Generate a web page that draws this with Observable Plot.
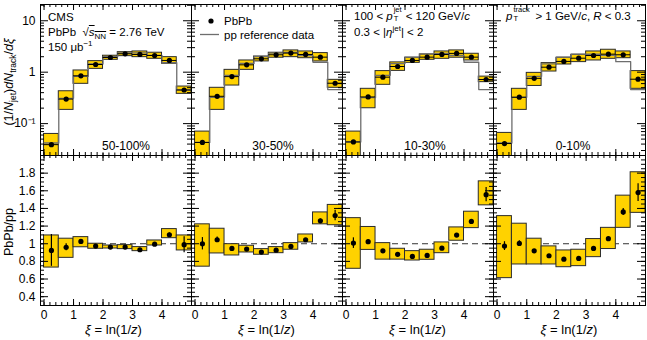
<!DOCTYPE html>
<html><head><meta charset="utf-8">
<script src="https://cdn.jsdelivr.net/npm/d3@7"></script>
<script src="https://cdn.jsdelivr.net/npm/@observablehq/plot@0.6"></script>
<style>
body{margin:0;background:#fff;}
#root{position:relative;width:647px;height:340px;overflow:hidden;font-family:"Liberation Sans",Arial,Helvetica,sans-serif;color:#000;}
.t{position:absolute;font-size:11.5px;white-space:nowrap;line-height:12px;}
.t sub{font-size:8px;vertical-align:baseline;position:relative;top:3px;line-height:0;}
.t sup{font-size:8px;vertical-align:baseline;position:relative;top:-5px;line-height:0;}
.ss{display:inline-block;position:relative;width:13px;height:10px;vertical-align:top;font-size:7.5px;}
.ss .u{position:absolute;left:1px;top:-4px;line-height:7px;}
.ss .d{position:absolute;left:1px;top:5px;line-height:7px;}
.rot{position:absolute;white-space:nowrap;font-size:12.5px;line-height:14px;transform:translate(-50%,-50%) rotate(-90deg);}
.rot sub{font-size:8.5px;vertical-align:baseline;position:relative;top:3px;line-height:0;}
.xt{position:absolute;font-size:13px;white-space:nowrap;transform:translate(-50%,-50%);line-height:14px;}
.cent{position:absolute;font-size:12px;white-space:nowrap;transform:translate(-50%,-50%);line-height:13px;background:#fff;z-index:5;text-decoration:none;}
</style></head><body><div id="root"></div>
<script>
// ---------- data ----------
const centralities = ["50-100%", "30-50%", "10-30%", "0-10%"];
const binLo = [0, 0.5, 1, 1.5, 2, 2.5, 3, 3.5, 4, 4.5];
const binHi = [0.5, 1, 1.5, 2, 2.5, 3, 3.5, 4, 4.5, 5];

// PbPb dN/dxi
const pbpb_50_100 = [0.039, 0.30, 0.85, 1.41, 1.93, 2.28, 2.21, 2.11, 1.69, 0.45];
const pbpb_30_50  = [0.043, 0.34, 0.82, 1.39, 1.82, 2.18, 2.35, 2.21, 1.96, 0.61];
const pbpb_10_30  = [0.044, 0.33, 0.80, 1.29, 1.69, 1.96, 2.21, 2.32, 1.96, 0.72];
const pbpb_0_10   = [0.041, 0.326, 0.76, 1.25, 1.62, 1.87, 2.11, 2.24, 2.18, 0.73];
// PbPb systematic band (low / high)
const sysLo_50_100 = [0.02, 0.185, 0.594, 1.16, 1.74, 2.05, 1.96, 1.82, 1.46, 0.379];
const sysHi_50_100 = [0.063, 0.426, 1.08, 1.64, 2.09, 2.45, 2.53, 2.39, 1.96, 0.526];
const sysLo_30_50  = [0.02, 0.185, 0.55, 1.11, 1.62, 1.91, 1.96, 1.87, 1.62, 0.497];
const sysHi_30_50  = [0.070, 0.497, 1.11, 1.69, 2.02, 2.39, 2.65, 2.53, 2.35, 0.71];
const sysLo_10_30  = [0.02, 0.199, 0.568, 1.06, 1.52, 1.74, 1.82, 1.91, 1.69, 0.64];
const sysHi_10_30  = [0.070, 0.475, 1.05, 1.55, 1.91, 2.21, 2.53, 2.65, 2.28, 0.82];
const sysLo_0_10   = [0.02, 0.185, 0.54, 1.03, 1.41, 1.57, 1.69, 1.82, 1.87, 0.475];
const sysHi_0_10   = [0.066, 0.475, 0.97, 1.50, 1.91, 2.18, 2.53, 2.73, 2.53, 1.05];
// pp reference
const pp_50_100 = [0.042, 0.31, 0.83, 1.45, 2.01, 2.37, 2.37, 2.12, 1.53, 0.455];
const pp_30_50  = [0.043, 0.325, 0.866, 1.48, 2.01, 2.35, 2.42, 2.11, 1.56, 0.46];
const pp_10_30  = [0.044, 0.32, 0.87, 1.47, 1.97, 2.26, 2.33, 2.11, 1.56, 0.46];
const pp_0_10   = [0.042, 0.325, 0.83, 1.45, 1.96, 2.24, 2.23, 2.12, 1.60, 0.46];
// PbPb/pp ratio
const ratio_50_100 = [0.924, 0.96, 1.026, 0.973, 0.962, 0.962, 0.932, 0.995, 1.102, 0.989];
const ratio_30_50  = [1.0, 1.045, 0.947, 0.94, 0.905, 0.927, 0.97, 1.045, 1.26, 1.32];
const ratio_10_30  = [1.007, 1.023, 0.92, 0.88, 0.856, 0.867, 0.95, 1.098, 1.253, 1.556];
const ratio_0_10   = [0.973, 1.003, 0.92, 0.864, 0.825, 0.833, 0.947, 1.057, 1.36, 1.58];
const rSysLo_50_100 = [0.73, 0.84, 0.96, 0.943, 0.946, 0.939, 0.916, 0.98, 1.063, 0.924];
const rSysHi_50_100 = [1.094, 1.057, 1.075, 1.0, 0.98, 0.984, 0.962, 1.037, 1.166, 1.094];
const rSysLo_30_50  = [0.74, 0.89, 0.867, 0.901, 0.875, 0.893, 0.932, 1.015, 1.22, 1.21];
const rSysHi_30_50  = [1.22, 1.17, 0.995, 0.977, 0.939, 0.962, 1.007, 1.105, 1.355, 1.44];
const rSysLo_10_30  = [0.716, 0.93, 0.82, 0.82, 0.81, 0.818, 0.893, 1.034, 1.177, 1.435];
const rSysHi_10_30  = [1.29, 1.19, 1.007, 0.943, 0.916, 0.932, 1.015, 1.185, 1.363, 1.707];
const rSysLo_0_10   = [0.61, 0.765, 0.765, 0.765, 0.734, 0.746, 0.848, 0.94, 1.18, 1.35];
const rSysHi_0_10   = [1.313, 1.227, 1.057, 0.97, 0.924, 0.932, 1.053, 1.18, 1.545, 1.81];
const rStat_50_100 = [0.18, 0.04, 0.015, 0.01, 0.01, 0.01, 0.01, 0.01, 0.02, 0.09];
const rStat_30_50  = [0.07, 0.03, 0.015, 0.01, 0.01, 0.01, 0.01, 0.015, 0.02, 0.06];
const rStat_10_30  = [0.06, 0.02, 0.01, 0.01, 0.01, 0.01, 0.01, 0.015, 0.02, 0.08];
const rStat_0_10   = [0.05, 0.03, 0.015, 0.01, 0.01, 0.01, 0.015, 0.02, 0.04, 0.1];

// ticks
const xTicks = [0, 1, 2, 3, 4];
const xTickLabels = ["0", "1", "2", "3", "4"];
const logTicks = [0.1, 1, 10];
const logTickLabels = ["10\u207B\u00B9", "1", "10"];
const logMinor = [0.03,0.04,0.05,0.06,0.07,0.08,0.09,0.2,0.3,0.4,0.5,0.6,0.7,0.8,0.9,2,3,4,5,6,7,8,9,20];
const ratioTicks = [0.4, 0.6, 0.8, 1, 1.2, 1.4, 1.6, 1.8];
const ratioTickLabels = ["0.4", "0.6", "0.8", "1", "1.2", "1.4", "1.6", "1.8"];

const pbpbAll = [pbpb_50_100, pbpb_30_50, pbpb_10_30, pbpb_0_10];
const sysLoAll = [sysLo_50_100, sysLo_30_50, sysLo_10_30, sysLo_0_10];
const sysHiAll = [sysHi_50_100, sysHi_30_50, sysHi_10_30, sysHi_0_10];
const ppAll = [pp_50_100, pp_30_50, pp_10_30, pp_0_10];
const ratioAll = [ratio_50_100, ratio_30_50, ratio_10_30, ratio_0_10];
const rSysLoAll = [rSysLo_50_100, rSysLo_30_50, rSysLo_10_30, rSysLo_0_10];
const rSysHiAll = [rSysHi_50_100, rSysHi_30_50, rSysHi_10_30, rSysHi_0_10];
const rStatAll = [rStat_50_100, rStat_30_50, rStat_10_30, rStat_0_10];

// ---------- layout ----------
const root = document.getElementById("root");
const panelLeft = [40, 191, 342, 493];
const panelW = [151, 151, 151, 152];
const topY = 4, topH = 151, botY = 155, botH = 150;
const YEL = "#ffd200", EDGE = "#2b2b2b", PPC = "#6e6e6e";
const xMinor = d3.range(0, 5.0001, 0.2).map(v => +v.toFixed(2));
const rMinor = d3.range(0.3, 2.0001, 0.05).map(v => +v.toFixed(2));
const rMajor = [0.4,0.6,0.8,1.0,1.2,1.4,1.6,1.8,2.0];
const font = "'Liberation Sans', Arial, Helvetica, sans-serif";

function borderTicks(W, H, yMaj, yMin) {
  return [
    Plot.tickX(xTicks, {x: d => d, insetTop: H - 6, stroke: "#000"}),
    Plot.tickX(xTicks, {x: d => d, insetBottom: H - 6, stroke: "#000"}),
    Plot.tickX(xMinor, {x: d => d, insetTop: H - 3, stroke: "#000"}),
    Plot.tickX(xMinor, {x: d => d, insetBottom: H - 3, stroke: "#000"}),
    Plot.tickY(yMaj, {y: d => d, insetRight: W - 8, stroke: "#000"}),
    Plot.tickY(yMaj, {y: d => d, insetLeft: W - 8, stroke: "#000"}),
    Plot.tickY(yMin, {y: d => d, insetRight: W - 4, stroke: "#000"}),
    Plot.tickY(yMin, {y: d => d, insetLeft: W - 4, stroke: "#000"}),
    Plot.frame({stroke: "#000", strokeWidth: 1})
  ];
}

function place(el, left, top) {
  el.style.position = "absolute";
  el.style.left = left + "px";
  el.style.top = top + "px";
  root.appendChild(el);
}

for (let i = 0; i < 4; i++) {
  const W = panelW[i];
  const rows = binLo.map((lo, k) => ({
    x1: lo, x2: binHi[k], xc: (lo + binHi[k]) / 2,
    y: pbpbAll[i][k], lo: sysLoAll[i][k], hi: sysHiAll[i][k],
    r: ratioAll[i][k], rlo: rSysLoAll[i][k], rhi: rSysHiAll[i][k], s: rStatAll[i][k]
  }));
  const ppStep = binLo.map((lo, k) => ({x: lo, y: ppAll[i][k]})).concat([{x: binHi[9], y: ppAll[i][9]}]);

  const topMarks = [
    Plot.rect(rows, {x1: "x1", x2: "x2", y1: "lo", y2: "hi", fill: YEL, stroke: EDGE, strokeWidth: 1, clip: true}),
    Plot.line(ppStep, {x: "x", y: "y", curve: "step-after", stroke: PPC, strokeWidth: 1.3, clip: true}),
    Plot.ruleY(rows, {x1: "x1", x2: "x2", y: "y", stroke: "#000", strokeWidth: 1}),
    Plot.dot(rows, {x: "xc", y: "y", r: 2.6, fill: "#000", stroke: "none"}),
    ...borderTicks(W, topH, logTicks, logMinor)
  ];
  if (i === 0) topMarks.push(Plot.axisY(logTicks, {anchor: "left", tickSize: 0, tickPadding: 5, label: null,
      tickFormat: d => logTickLabels[logTicks.indexOf(d)], fontSize: 12}));
  const top = Plot.plot({
    width: W, height: topH, margin: 0,
    x: {domain: [-0.12, 5], axis: null},
    y: {type: "log", domain: [0.024, 20.7], axis: null},
    style: {overflow: "visible", background: "transparent", fontFamily: font, fontSize: "12px"},
    marks: topMarks
  });
  place(top, panelLeft[i], topY);

  const botMarks = [
    Plot.ruleY([1], {stroke: "#333", strokeDasharray: "6,4", strokeWidth: 1}),
    Plot.rect(rows, {x1: "x1", x2: "x2", y1: "rlo", y2: "rhi", fill: YEL, stroke: EDGE, strokeWidth: 1, clip: true}),
    Plot.ruleX(rows, {x: "xc", y1: d => d.r - d.s, y2: d => d.r + d.s, stroke: "#000", strokeWidth: 1.2}),
    Plot.dot(rows, {x: "xc", y: "r", r: 2.6, fill: "#000", stroke: "none"}),
    ...borderTicks(W, botH, rMajor, rMinor),
    Plot.axisX(xTicks, {anchor: "bottom", tickSize: 0, tickPadding: 5, label: null,
      tickFormat: d => xTickLabels[xTicks.indexOf(d)], fontSize: 12})
  ];
  if (i === 0) botMarks.push(Plot.axisY(ratioTicks, {anchor: "left", tickSize: 0, tickPadding: 5, label: null,
      tickFormat: d => ratioTickLabels[ratioTicks.indexOf(d)], fontSize: 12}));
  const bot = Plot.plot({
    width: W, height: botH, margin: 0,
    x: {domain: [-0.12, 5], axis: null},
    y: {domain: [0.3, 2.0], axis: null},
    style: {overflow: "visible", background: "transparent", fontFamily: font, fontSize: "12px"},
    marks: botMarks
  });
  place(bot, panelLeft[i], botY);

  // x title
  const xt = document.createElement("div");
  xt.className = "xt";
  xt.innerHTML = "<i>\u03BE</i> = ln(1/<i>z</i>)";
  xt.style.left = (panelLeft[i] + W / 2 - (i === 0 ? 2 : 0)) + "px";
  xt.style.top = "330px";
  root.appendChild(xt);
}

// centrality labels (added last so nothing draws over them)
centralities.forEach((c, i) => {
  const ct = document.createElement("div");
  ct.className = "cent";
  ct.textContent = c;
  ct.style.left = [126, 273, 425, 573][i] + "px";
  ct.style.top = "146px";
  root.appendChild(ct);
});

// ---------- annotations ----------
function addText(html, left, top, cls = "t") {
  const d = document.createElement("div");
  d.className = cls;
  d.innerHTML = html;
  d.style.left = left + "px";
  d.style.top = top + "px";
  root.appendChild(d);
  return d;
}
addText("CMS", 48, 11);
addText("PbPb &nbsp;\u221A<span style=\"text-decoration:overline\"><i>s</i><sub>NN</sub></span> = 2.76 TeV", 48, 26);
addText("150 \u03BCb<sup>\u22121</sup>", 48, 41);
addText("PbPb", 224, 15);
addText("pp reference data", 224, 29);
addText("100 &lt; <i>p</i><span class=\"ss\"><span class=\"u\">jet</span><span class=\"d\">T</span></span>&lt; 120 GeV/<i>c</i>", 354, 10);
addText("0.3 &lt; |<i>\u03B7</i><sup>jet</sup>| &lt; 2", 354, 26);
addText("<i>p</i><span class=\"ss\" style=\"width:23px\"><span class=\"u\">track</span><span class=\"d\">T</span></span>&gt; 1 GeV/<i>c</i>, <i>R</i> &lt; 0.3", 506, 10);

// legend symbols
const ns = "http://www.w3.org/2000/svg";
const lg = document.createElementNS(ns, "svg");
lg.setAttribute("width", 24); lg.setAttribute("height", 24);
lg.style.position = "absolute"; lg.style.left = "199px"; lg.style.top = "14px";
lg.innerHTML = '<circle cx="12" cy="7" r="2.6" fill="#000"/><line x1="1" x2="20" y1="20.5" y2="20.5" stroke="#6e6e6e" stroke-width="1.3"/>';
root.appendChild(lg);

// y titles
addText("(1/<i>N</i><sub>jet</sub>)<i>dN</i><sub>track</sub>/<i>d\u03BE</i>", 9, 82, "rot");
addText("PbPb/pp", 9, 232, "rot");
</script>
</body></html>
